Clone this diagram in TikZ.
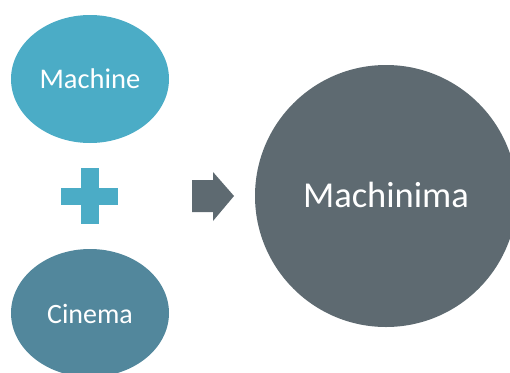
\documentclass[tikz,border=0pt]{standalone}
\usepackage{fontspec}
\setmainfont{Carlito}
\usetikzlibrary{shapes.geometric}
\definecolor{cTop}{HTML}{4BACC6}
\definecolor{cBot}{HTML}{52879C}
\definecolor{cBig}{HTML}{5E6A71}
\tikzset{
  blob/.style={ellipse, inner sep=0pt, draw=none},
  lbl/.style={text=white, anchor=base, inner sep=0pt},
}
\begin{document}
\begin{tikzpicture}[x=1pt,y=-1pt]
\path[use as bounding box] (0,0) rectangle (510,372);
\clip (0,0) rectangle (510,372);
\node[blob, fill=cTop, minimum width=158pt, minimum height=128pt] (machine) at (90,79) {};
\node[blob, fill=cBot, minimum width=158pt, minimum height=128pt] (cinema) at (90,313) {};
\node[circle, inner sep=0pt, fill=cBig, minimum size=262pt] (machinima) at (386,196) {};
\node[lbl, font=\fontsize{28.5}{34}\selectfont] (tmachine) at (90,88) {Machine};
\node[lbl, font=\fontsize{28}{34}\selectfont] (tcinema) at (90,323) {Cinema};
\node[lbl, font=\fontsize{36.5}{44}\selectfont] (tmachinima) at (386,207) {Machinima};
% plus sign
\fill[cTop] (81,168) rectangle (99,224);
\fill[cTop] (61,188) rectangle (118,205);
% arrow
\fill[cBig] (192,180) -- (213,180) -- (213,172) -- (234,196) -- (213,221) -- (213,212) -- (192,212) -- cycle;
\end{tikzpicture}
\end{document}
